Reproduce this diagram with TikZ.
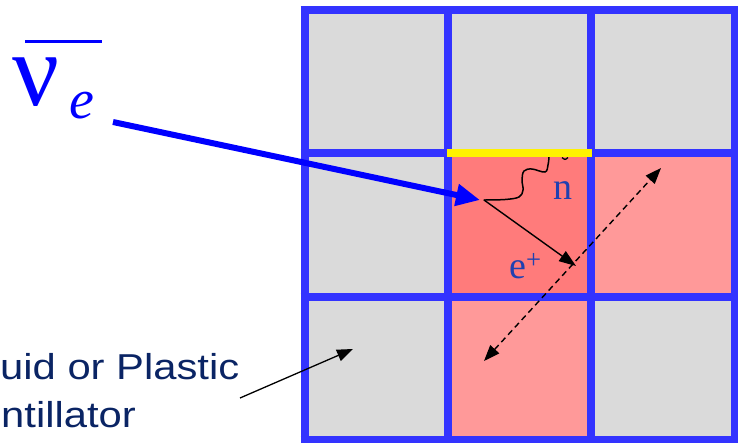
\documentclass[tikz,border=0pt]{standalone}
\usepackage{fontspec}
\setmainfont{Liberation Serif}
\newfontfamily\sansf{Liberation Sans}
\usetikzlibrary{arrows.meta}
\definecolor{gridblue}{RGB}{51,51,255}
\definecolor{cellgrey}{RGB}{218,218,218}
\definecolor{cellred}{RGB}{255,123,123}
\definecolor{cellpink}{RGB}{255,153,153}
\definecolor{nublue}{RGB}{0,0,255}
\definecolor{lblblue}{RGB}{32,64,176}
\definecolor{navytext}{RGB}{10,36,100}
\tikzset{
  gridline/.style={draw=gridblue, line width=8pt},
  thinarrow/.style={draw=black, line width=1.4pt, -{Triangle[length=17pt,width=12pt]}},
  dasharrow/.style={draw=black, line width=1.4pt, dash pattern=on 6pt off 4pt, {Triangle[length=16pt,width=12pt]}-{Triangle[length=16pt,width=12pt]}},
  nuarrow/.style={draw=nublue, line width=6pt, -{Triangle[length=24pt,width=21pt]}},
  particle/.style={text=lblblue, font=\fontsize{38}{38}\selectfont, inner sep=0pt},
  sidelabel/.style={text=navytext, font=\sansf\fontsize{36}{36}\selectfont, inner sep=0pt, anchor=base west, xscale=1.16},
}
\begin{document}
\begin{tikzpicture}[x=1pt,y=-1pt]
\useasboundingbox (0,0) rectangle (738,442);
% cells
\fill[cellgrey] (304.5,10) rectangle (735,440);
\fill[cellred] (448,153) rectangle (591,297);
\fill[cellpink] (591,153) rectangle (735,297);
\fill[cellpink] (448,297) rectangle (591,440);
% grid lines
\foreach \x in {304.5,448,591,735} \draw[gridline] (\x,6) -- (\x,444);
\foreach \y in {10,153,297,440} \draw[gridline] (300.5,\y) -- (739,\y);
% coordinates
\coordinate (vtx) at (484,200);
\coordinate (nustart) at (113,122);
\coordinate (nutip) at (480,200);
\coordinate (etip) at (576,266);
\coordinate (dA) at (484,361);
\coordinate (dB) at (661,168);
\coordinate (lblstart) at (240,398);
\coordinate (lbltip) at (353,349);
% neutron wavy path
\draw[black, line width=1.5pt, line cap=round] plot[smooth, tension=0.6] coordinates {(vtx) (505,199.5) (519,197) (523,190) (522,180) (524,171) (532,169) (545,172) (548,165) (549,157)};
\draw[black, line width=1.3pt] (562,157.5) .. controls (565,160) .. (568,157.5);
% yellow bar
\fill[yellow] (447,149) rectangle (592,157);
% arrows
\draw[nuarrow] (nustart) -- (nutip);
\draw[thinarrow] (vtx) -- (etip);
\draw[dasharrow] (dA) -- (dB);
\draw[black, line width=1.3pt, -{Triangle[length=16pt,width=12pt]}] (lblstart) -- (lbltip);
% antineutrino symbol
\node[anchor=base west, inner sep=0pt, text=nublue, font=\fontsize{104}{104}\selectfont] (nu) at (12,105) {ν};
\node[anchor=base west, inner sep=0pt, text=nublue, font=\itshape\fontsize{56}{56}\selectfont] (nusub) at (69,118) {e};
\draw[nublue, line width=3pt] (25,41) -- (102,41);
% particle labels
\node[particle, anchor=base] (nlbl) at (563,199) {n};
\node[particle, anchor=base west] (elbl) at (509,278) {e\textsuperscript{+}};
% side label
\node[sidelabel] (liq1) at (0,379) {uid or Plastic};
\node[sidelabel] (liq2) at (1,427) {ntillator};
\end{tikzpicture}
\end{document}
